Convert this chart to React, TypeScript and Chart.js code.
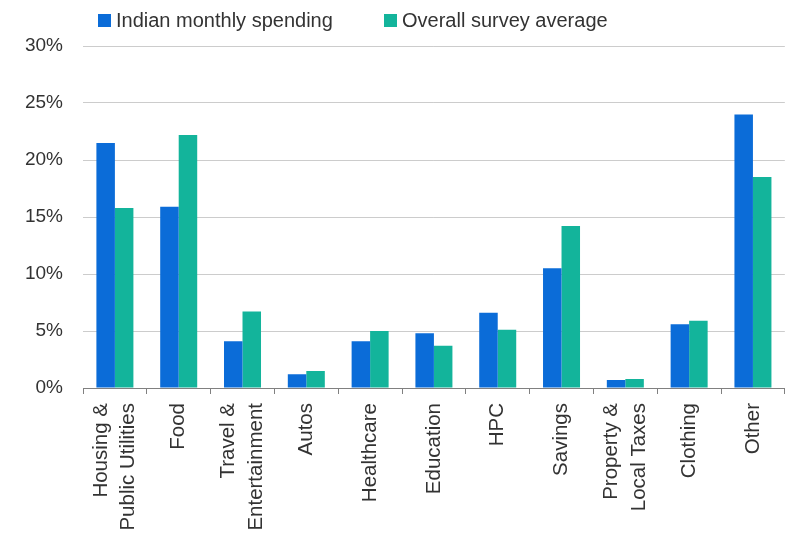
import React, { useEffect, useRef } from "react";
import { Chart, registerables } from "chart.js";

Chart.register(...registerables);

const categories: (string | string[])[] = [
  ["Housing &", "Public Utilities"],
  "Food",
  ["Travel &", "Entertainment"],
  "Autos",
  "Healthcare",
  "Education",
  "HPC",
  "Savings",
  ["Property &", "Local Taxes"],
  "Clothing",
  "Other",
];

const indianSpending = [21.5, 15.9, 4.1, 1.2, 4.1, 4.8, 6.6, 10.5, 0.7, 5.6, 24.0];
const surveyAverage = [15.8, 22.2, 6.7, 1.5, 5.0, 3.7, 5.1, 14.2, 0.8, 5.9, 18.5];

const seriesNames = ["Indian monthly spending", "Overall survey average"];
const seriesColors = ["#0b6cd8", "#13b49b"];

const FONT = "'Liberation Sans', Arial, Helvetica, sans-serif";

// Center multi-line rotated x labels around their tick
const centerMultilineLabels = {
  id: "centerMultilineLabels",
  beforeDraw(chart: any) {
    const scale = chart.scales.x;
    if (!scale || typeof scale.getLabelItems !== "function") return;
    const items = scale.getLabelItems();
    items.forEach((item: any) => {
      if (item.__centered) return;
      const lines = Array.isArray(item.label) ? item.label.length : 1;
      if (lines > 1) {
        const lh = Number(item.font && item.font.lineHeight) || 27;
        item.textOffset = (item.textOffset || 0) - ((lines - 1) * lh) / 2;
      }
      item.__centered = true;
    });
  },
};

export default function App() {
  const canvasRef = useRef<HTMLCanvasElement | null>(null);

  useEffect(() => {
    if (!canvasRef.current) return;
    const chart = new Chart(canvasRef.current, {
      type: "bar",
      data: {
        labels: categories,
        datasets: [
          {
            label: seriesNames[0],
            data: indianSpending,
            backgroundColor: seriesColors[0],
            categoryPercentage: 0.58,
            barPercentage: 1.0,
          },
          {
            label: seriesNames[1],
            data: surveyAverage,
            backgroundColor: seriesColors[1],
            categoryPercentage: 0.58,
            barPercentage: 1.0,
          },
        ],
      },
      options: {
        responsive: false,
        animation: false,
        devicePixelRatio: 1,
        layout: { padding: { top: 46, right: 4, left: 0, bottom: 0 } },
        plugins: {
          legend: { display: false },
          tooltip: { enabled: false },
        },
        scales: {
          x: {
            grid: {
              offset: true,
              drawOnChartArea: false,
              drawTicks: true,
              tickLength: 6,
              color: "#808080",
            },
            border: { display: true, color: "#808080", width: 1 },
            ticks: {
              minRotation: 90,
              maxRotation: 90,
              autoSkip: false,
              padding: 9,
              color: "#333333",
              font: { family: FONT, size: 20.5, lineHeight: 1.36 },
            },
            afterFit: (s: any) => {
              s.height = 153;
            },
          },
          y: {
            min: 0,
            max: 30,
            grid: { color: "#cccccc", drawTicks: false, lineWidth: 1 },
            border: { display: false },
            ticks: {
              stepSize: 5,
              padding: 20,
              color: "#333333",
              font: { family: FONT, size: 19 },
              callback: (v: any) => v + "%",
            },
            afterFit: (s: any) => {
              s.width = 83;
            },
          },
        },
      },
      plugins: [centerMultilineLabels],
    });
    return () => chart.destroy();
  }, []);

  return (
    <div
      style={{
        position: "fixed",
        left: 0,
        top: 0,
        width: 790,
        height: 541,
        background: "#ffffff",
        overflow: "hidden",
      }}
    >
      <canvas
        ref={canvasRef}
        width={790}
        height={541}
        style={{ position: "absolute", left: 0, top: 0, width: 790, height: 541 }}
      />
      {seriesNames.map((name, i) => (
        <div
          key={name}
          style={{
            position: "absolute",
            left: i === 0 ? 98 : 384,
            top: 7,
            height: 26,
            display: "flex",
            alignItems: "center",
            fontFamily: FONT,
            fontSize: 20,
            color: "#333333",
            whiteSpace: "nowrap",
          }}
        >
          <span
            style={{
              display: "inline-block",
              width: 13,
              height: 13,
              background: seriesColors[i],
              marginRight: 5,
            }}
          />
          <span>{name}</span>
        </div>
      ))}
    </div>
  );
}
